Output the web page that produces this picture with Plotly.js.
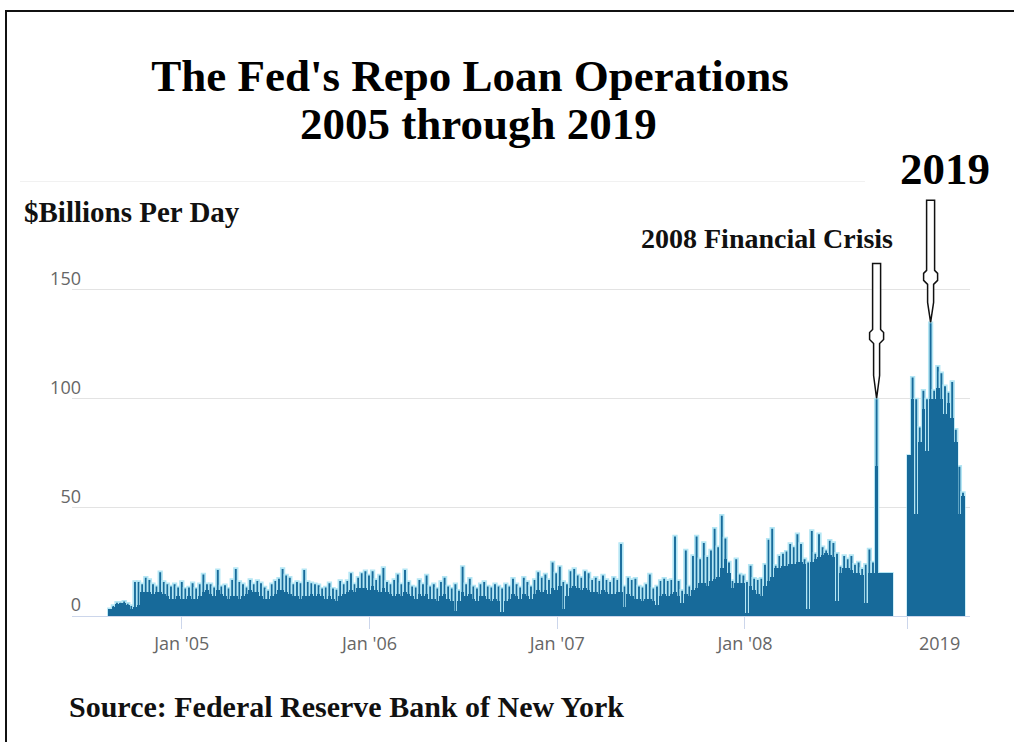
<!DOCTYPE html>
<html><head><meta charset="utf-8">
<script src="https://cdn.plot.ly/plotly-3.0.1.min.js"></script>
<style>
html,body{margin:0;padding:0;background:#fff;overflow:hidden;}
#chart{position:absolute;left:0;top:0;width:1014px;height:742px;}
#frame{position:absolute;left:5px;top:10px;width:1100px;height:800px;border-left:2px solid #111;border-top:2px solid #111;pointer-events:none;}
</style></head><body>
<div id="chart"></div><div id="frame"></div>
<script>
// ---------- DATA (weekly, $ billions per day) ----------
const startDate = '2004-08-14';
const peaks2004to2008 = [
 3.5,5,6.5,6.5,7,6,5,16,16,15,
 18,17,15,14,20.5,16,15,14,15,13.5,
 16,13,13.5,15.5,13,15,19.5,15,15,13.5,
 21.5,14,14.5,13,17,22,16,15,13.5,17,
 15,16.5,15.5,13.5,12,15,16.5,17.5,22,19,
 18,15,16,15.5,21.5,16,15.5,15,14.5,13,
 13.5,15.5,13,12.5,16.5,15,16.5,20,15,18,
 20,21,19,21,17,19,22.5,16,15,17,
 19.5,15,21.5,16,14,13.5,17,15,19,14,
 15,13,16,18,14,13,15,12,23,15,
 17.5,14,13,15,16,14,13.5,15,14,13,
 15,14,17.5,15,13.5,18,16,14,17,20.5,
 18,19.5,17,25,20,23,16,15,21,22,
 19,18,21,20,17,18,16.5,19,17,16,
 18,17,33.5,14,18,17,17.5,14,13.5,15,
 19.5,13,14,16.5,17.5,16.5,17,37,16.5,12,
 30.5,14,28,37,26.5,34,27.5,30.5,40.5,32,
 46.5,36,25,16.5,26.5,19.5,19,16,23.5,17.5,
 17,17.5,24,35.5,40.5,23.5,28,29,30,33.5,
 32,38,33.5,26.5,25,39.5,29,38,32,30.5,
 35,34,29,23,28,26.5,28,24,25,22,
 24,31,25,
 100,
 19.8,19.8,19.8,19.8
];
const base2004to2008 = [
 3,4,5.5,6,6,5,3,4,5,11,
 11,11,10,11,11,10,9,8,8,9,
 8,8,9,8,8,9,11,12,10,9,
 12,10,9,8,9,9,8,9,10,12,
 11,11,9,8,8,9,10,12,12,11,
 10,9,9,8,9,9,10,9,10,9,
 8,9,8,7,9,10,11,12,11,13,
 13,13,12,14,12,11,13,11,10,9,
 10,9,11,10,9,8,10,9,10,8,
 8,7,9,10,8,7,2.5,7,11,9,
 10,8,7,9,9,8,7,8,7,2,
 7,8,10,9,8,10,9,8,10,12,
 11,12,10,13,12,14,3,9,13,14,
 13,12,13,12,11,11,10,12,11,10,
 10,11,11,4,10,9,8,8,7,8,
 8,7,5,9,10,9,10,11,9,6,
 10,9,12,13,15,15,14,16,17,18,
 22,26,20,13,15,15,15,1.5,14,12,
 10,9,14,16,18,22,22,23,23,24,
 24,25,25,24,3,25,26,27,28,29,
 28,27,7,20,22,22,21,20,20,19,
 6,20,20,
 69,
 19.8,19.8,19.8,19.8
];
const peaks2019 = [74,110,100,87,104,100,135,104,115,112,106,103,108,86,69,57];
const base2019  = [74,100,47,80,95,76,100,100,105,100,93,98,91,80,47,55];
const tickDates  = ['2005-01-01','2006-01-01','2007-01-01','2008-01-01'];
const tickLabels = ["Jan '05","Jan '06","Jan '07","Jan '08"];
const label2019  = '2019';
const yTicks = [0,50,100,150];
const yTopGrid = 200;
const crisisIndex = 213;   // week of the Sept-2008 spike
const peak2019Index = 6;

// ---------- LAYOUT CONSTANTS ----------
const W = 1014, H = 742;
const plotL = 72, plotR = 970, plotT = 181, plotB = 616;
const gapWeeks = 4;
const DARK = '#176a9a', LIGHT = '#b4e6f4', GRID = '#e3e3e3';
const serif = 'Liberation Serif, Times New Roman, serif';
const sans = 'Open Sans, DejaVu Sans, sans-serif';

const weekOf = d => (Date.parse(d) - Date.parse(startDate)) / (7 * 864e5);
const xA = peaks2004to2008.map((_, i) => i);
const start2019 = peaks2004to2008.length + gapWeeks;
const xB = peaks2019.map((_, i) => start2019 + i);
const pxX = p => (p - plotL) / (plotR - plotL);
const pxY = p => (plotB - p) / (plotB - plotT);

const barTrace = (x, y, outline) => ({
  type: 'bar', x: x, y: y, width: 1, hoverinfo: 'skip',
  marker: {color: DARK, line: {color: outline ? LIGHT : DARK, width: outline ? 1.7 : 0}}
});
const data = [
  barTrace(xA, peaks2004to2008, true),
  barTrace(xB, peaks2019, true),
  barTrace(xA, base2004to2008, false),
  barTrace(xB, base2019, false)
];

const janPos = tickDates.map(weekOf);
const boundary2019 = start2019 - 0.5;
const center2019 = start2019 + (peaks2019.length - 1) / 2 + 1;

function arrowPath(len, taper, n) {
  const pts = [[0,0],[-3,taper],[-3,n],[-7,n+4],[-7,n+11],[-4,n+14],[-4,len],
               [4,len],[4,n+14],[7,n+11],[7,n+4],[3,n],[3,taper]];
  return 'M' + pts.map(p => p[0] + ',' + p[1]).join(' L') + ' Z';
}

const layout = {
  width: W, height: H,
  margin: {l: plotL, r: W - plotR, t: plotT, b: H - plotB, pad: 0},
  paper_bgcolor: '#fff', plot_bgcolor: '#fff',
  showlegend: false, barmode: 'overlay', bargap: 0,
  title: {
    text: "<b>The Fed's Repo Loan Operations</b>",
    font: {family: serif, size: 45, color: '#000'},
    xref: 'container', x: 470 / W, xanchor: 'center',
    yref: 'container', y: 1 - 75 / H, yanchor: 'middle'
  },
  xaxis: {
    range: [-10.5, -10.5 + (plotR - plotL) / 3.6],
    tickmode: 'array',
    tickvals: janPos.concat([center2019]),
    ticktext: tickLabels.concat([label2019]),
    ticks: '', showgrid: false, zeroline: false,
    showline: true, linecolor: '#ccd6eb', linewidth: 1,
    tickfont: {family: sans, size: 18, color: '#666'},
    ticklabelstandoff: 11,
    minor: {tickmode: 'array', tickvals: janPos.concat([boundary2019]), ticks: 'outside',
            ticklen: 12, tickcolor: '#ccd6eb', tickwidth: 1, showgrid: false},
    fixedrange: true
  },
  yaxis: {
    range: [0, 200], tickmode: 'array', tickvals: yTicks,
    ticktext: yTicks.map(String),
    showgrid: true, gridcolor: GRID, gridwidth: 1,
    zeroline: false, showline: false, ticks: '',
    tickfont: {family: sans, size: 18, color: '#666'},
    ticklabelshift: -11, ticklabelstandoff: -10,
    fixedrange: true
  },
  shapes: [
    {type: 'line', layer: 'below', xref: 'paper', yref: 'y', x0: pxX(20), x1: pxX(865),
     y0: yTopGrid, y1: yTopGrid, line: {color: GRID, width: 1}},
    {type: 'path', layer: 'above', xref: 'x', yref: 'y', xsizemode: 'pixel', ysizemode: 'pixel',
     xanchor: crisisIndex, yanchor: peaks2004to2008[crisisIndex], path: arrowPath(135, 23, 55),
     line: {color: '#111', width: 1.5}, fillcolor: 'rgba(255,255,255,1)'},
    {type: 'path', layer: 'above', xref: 'x', yref: 'y', xsizemode: 'pixel', ysizemode: 'pixel',
     xanchor: start2019 + peak2019Index, yanchor: peaks2019[peak2019Index], path: arrowPath(122, 20, 38),
     line: {color: '#111', width: 1.5}, fillcolor: 'rgba(255,255,255,1)'}
  ],
  annotations: [
    {text: '<b>2005 through 2019</b>', xref: 'paper', yref: 'paper', x: pxX(478), y: pxY(124),
     xanchor: 'center', yanchor: 'middle', showarrow: false, font: {family: serif, size: 45, color: '#000'}},
    {text: '<b>2019</b>', xref: 'paper', yref: 'paper', x: pxX(945), y: pxY(169),
     xanchor: 'center', yanchor: 'middle', showarrow: false, font: {family: serif, size: 45, color: '#000'}},
    {text: '<b>2008 Financial Crisis</b>', xref: 'paper', yref: 'paper', x: pxX(767), y: pxY(238),
     xanchor: 'center', yanchor: 'middle', showarrow: false, font: {family: serif, size: 28, color: '#111'}},
    {text: '<b>$Billions Per Day</b>', xref: 'paper', yref: 'paper', x: pxX(22), y: pxY(212),
     xanchor: 'left', yanchor: 'middle', showarrow: false, font: {family: serif, size: 29, color: '#111'}},
    {text: '<b>Source: Federal Reserve Bank of New York</b>', xref: 'paper', yref: 'paper', x: pxX(67), y: pxY(706),
     xanchor: 'left', yanchor: 'middle', showarrow: false, font: {family: serif, size: 30, color: '#111'}}
  ]
};

Plotly.newPlot('chart', data, layout, {displayModeBar: false, staticPlot: true});
</script>
</body></html>
